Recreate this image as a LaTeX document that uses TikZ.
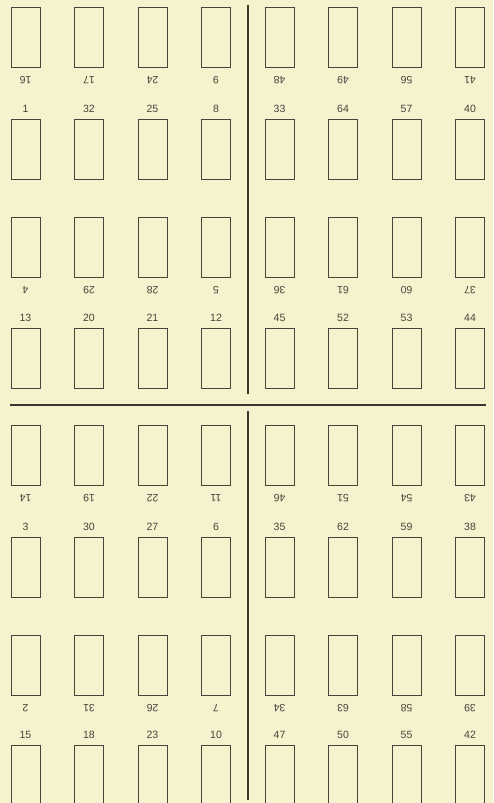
\documentclass[tikz,border=0pt]{standalone}
\usepackage{fontspec}
\setsansfont{Liberation Sans}
\usepackage{tikz}
\usetikzlibrary{positioning}

\definecolor{paper}{RGB}{246,242,206}
\definecolor{inkgray}{RGB}{70,68,60}

\begin{document}
\begin{tikzpicture}[x=0.03cm,y=-0.03cm,
    page/.style={draw=inkgray,line width=0.6pt,minimum width=0.87cm,minimum height=1.8cm,inner sep=0pt,anchor=north},
    folio/.style={font=\sffamily\small,text=inkgray,inner sep=0pt},
    fold/.style={draw=inkgray!80!black,line width=1.6pt}]
        \fill[paper] (0,0) rectangle (493,803); % Sheet
        \useasboundingbox (0,0) rectangle (493,803);
        \foreach \top/\flip/\nums in {7/1/{16,17,24,9,48,49,56,41},
                                      119/0/{1,32,25,8,33,64,57,40},
                                      217/1/{4,29,28,5,36,61,60,37},
                                      328/0/{13,20,21,12,45,52,53,44},
                                      425/1/{14,19,22,11,46,51,54,43},
                                      537/0/{3,30,27,6,35,62,59,38},
                                      635/1/{2,31,26,7,34,63,58,39},
                                      745/0/{15,18,23,10,47,50,55,42}}{
          \foreach \n [count=\c] in \nums {
            \pgfmathsetmacro\cx{25.5+63.5*(\c-1)}
            \node[page] (p\n) at (\cx,\top) {};
            \ifnum\flip=1
              \node[folio,rotate=180] (f\n) at (\cx,\top+73) {\n}; % Head down
            \else
              \node[folio] (f\n) at (\cx,\top-10) {\n};
            \fi
          }
        }
        \draw[fold] (248,5) -- (248,394); % Folds
        \draw[fold] (248,411) -- (248,800);
        \draw[fold] (10,405) -- (486,405);
      \end{tikzpicture}
\end{document}
